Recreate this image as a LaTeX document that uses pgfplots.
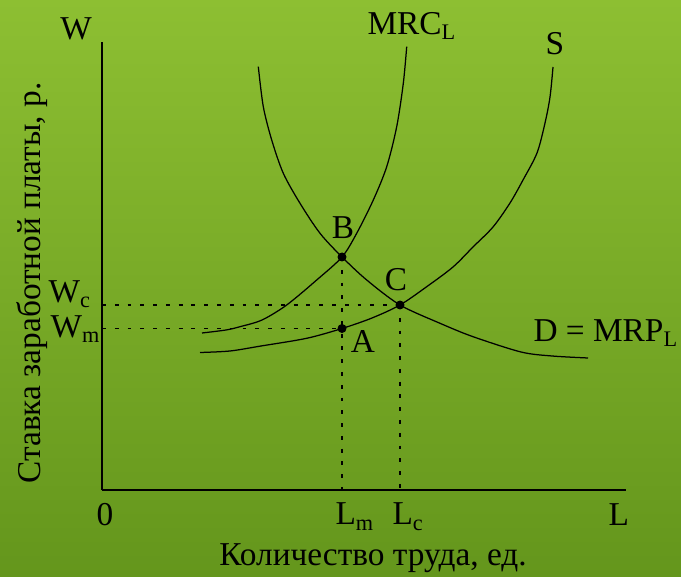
\documentclass[border=0pt]{standalone}
\usepackage{pgfplots}
\pgfplotsset{compat=1.18}
\usepackage{fontspec}
\setmainfont{Liberation Serif}
\definecolor{bgtop}{RGB}{141,191,50}
\definecolor{bgbot}{RGB}{100,150,28}
\begin{document}
\fontsize{12pt}{14pt}\selectfont
\begin{tikzpicture}[font=\fontsize{12pt}{14pt}\selectfont]
\begin{axis}[
set layers,
x=0.36pt, y=0.36pt,
xmin=0, xmax=524, ymin=0, ymax=448,
axis lines=left,
axis line style={-, line width=0.6pt},
xtick=\empty, ytick=\empty,
clip=false,
]
\begin{pgfonlayer}{axis background}
\shade[top color=bgtop, bottom color=bgbot] (axis cs:-102,-87) rectangle (axis cs:579,490);
\end{pgfonlayer}

% dotted guides
\addplot[black, line width=0.5pt, dash pattern=on 1.4pt off 3.2pt] coordinates {(0,185) (298,185)};
\addplot[black, line width=0.5pt, dash pattern=on 1.4pt off 3.2pt] coordinates {(0,161.5) (240,161.5)};
\addplot[black, line width=0.5pt, dash pattern=on 1.4pt off 3.2pt] coordinates {(240,233) (240,0)};
\addplot[black, line width=0.5pt, dash pattern=on 1.4pt off 3.2pt] coordinates {(298,185) (298,0)};

% MRC_L
\addplot[black, line width=0.45pt, smooth] coordinates {
(100,157) (124,160) (138,163.3) (160,170) (184.7,185) (214.7,210) (240,233) (254.7,256.7) (271.3,290) (284.7,323.3) (294.7,363.3) (301.3,406.7) (304.7,443.3)};
% S
\addplot[black, line width=0.45pt, smooth] coordinates {
(98,137.5) (128,139) (159,144) (204.7,151.7) (240,161.5) (270,172) (298,185) (324.7,203.3) (351,223) (371,243) (391,263) (408,287) (421,310) (435,337) (443,367) (448,393) (451,423)};
% D = MRP_L
\addplot[black, line width=0.45pt, smooth] coordinates {
(156.3,423.3) (161.3,383.3) (169.7,350) (181.3,316.7) (198,286.7) (218,256.7) (240,233) (264.7,210) (298,185) (338,166.7) (371,153.3) (419,138) (450,134) (486,132)};

% points
\addplot[only marks, mark=*, mark size=1.4pt, black] coordinates {(240,233) (298,185) (240,161.5)};

% labels
\node[anchor=center] at (axis cs:-26,461) {W};
\node[anchor=base west, inner sep=0pt] at (axis cs:265,455) {MRC\textsubscript{L}};
\node[anchor=center] at (axis cs:453,446) {S};
\node[anchor=base west, inner sep=0pt] at (axis cs:431,148) {D = MRP\textsubscript{L}};
\node[anchor=center] at (axis cs:241,262) {B};
\node[anchor=center] at (axis cs:294,210) {C};
\node[anchor=center] at (axis cs:261,148) {A};
\node[anchor=base west, inner sep=0pt] at (axis cs:-54,187) {W\textsubscript{c}};
\node[anchor=base west, inner sep=0pt] at (axis cs:-52,152) {W\textsubscript{m}};
\node[anchor=base west, inner sep=0pt] at (axis cs:233,-35) {L\textsubscript{m}};
\node[anchor=base west, inner sep=0pt] at (axis cs:290,-35) {L\textsubscript{c}};
\node[anchor=base, inner sep=0pt] at (axis cs:3,-36) {0};
\node[anchor=base west, inner sep=0pt] at (axis cs:506,-36) {L};
\node[anchor=base, inner sep=0pt] at (axis cs:271,-76) {Количество труда, ед.};
\node[anchor=base, rotate=90, inner sep=0pt] at (axis cs:-62,207) {Ставка заработной платы, р.};
\end{axis}
\end{tikzpicture}
\end{document}
